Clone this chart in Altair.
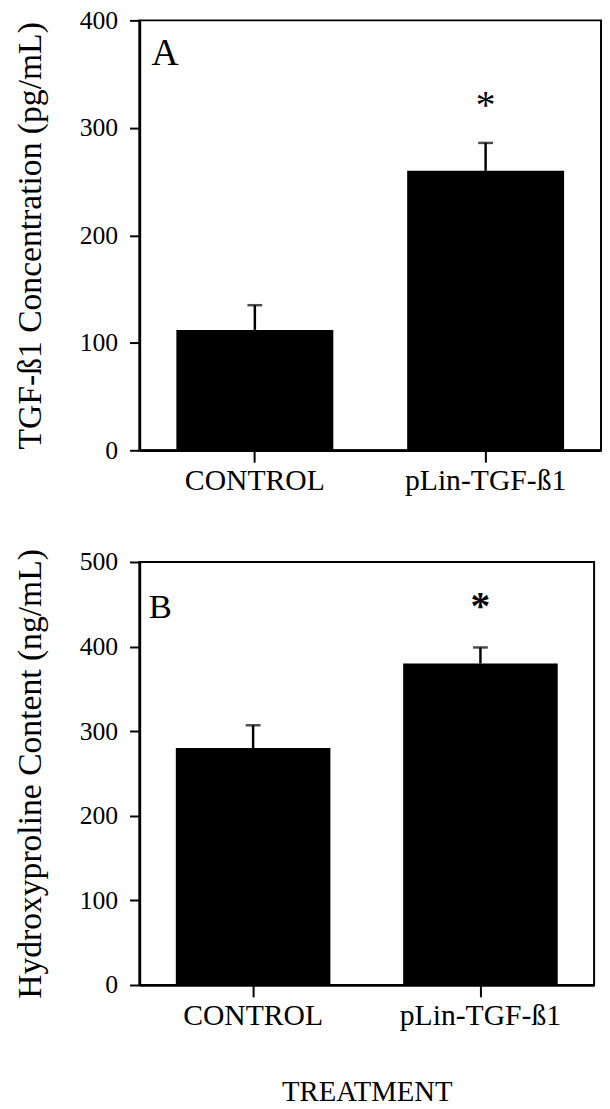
import altair as alt
import pandas as pd

FONT = "Liberation Serif"

treatments = ["CONTROL", "pLin-TGF-ß1"]

# Panel A: TGF-ß1 concentration (pg/mL)
tgf_mean = [112, 260]
tgf_upper = [135, 286]
tgf_star = [327]          # asterisk over pLin-TGF-ß1
# Panel B: Hydroxyproline content (ng/mL)
hyp_mean = [280, 380]
hyp_upper = [307, 399]
hyp_star = [455]

star_group = ["pLin-TGF-ß1"]


def panel(mean, upper, star, letter, letter_y, letter_x, letter_size, ymax, yticks,
          ytitle, width, height, xtitle, star_weight):
    df = pd.DataFrame({"treatment": treatments, "v": mean, "upper": upper})
    sdf = pd.DataFrame({"treatment": star_group, "v": star, "s": ["*"]})
    ldf = pd.DataFrame({"v": [letter_y], "s": [letter]})

    xscale = alt.Scale(paddingInner=0.32, paddingOuter=0.16)
    xaxis = alt.Axis(title=xtitle, labelAngle=0, labelFontSize=30, labelPadding=4,
                     tickSize=12, titleFontSize=29, titlePadding=48,
                     titleFontWeight="normal")
    x = alt.X("treatment:N", sort=treatments, scale=xscale, axis=xaxis)
    yscale = alt.Scale(domain=[0, ymax], nice=False, zero=True)
    yaxis = alt.Axis(title=ytitle, values=yticks, labelFontSize=26, tickSize=10,
                     labelPadding=12, titleFontSize=34, titlePadding=32,
                     titleFontWeight="normal")

    def Y(field):
        return alt.Y(f"{field}:Q", scale=yscale, axis=yaxis, title=ytitle)

    bars = alt.Chart(df).mark_bar(color="black").encode(x=x, y=Y("v"))
    stems = alt.Chart(df).mark_rule(color="black", strokeWidth=2.5).encode(
        x=x, y=Y("v"), y2="upper:Q")
    caps = alt.Chart(df).mark_tick(color="black", size=15, thickness=2.5).encode(
        x=x, y=Y("upper"))
    stars = alt.Chart(sdf).mark_text(font=FONT, fontSize=40, fontWeight=star_weight,
                                     baseline="middle", align="center", dy=7,
                                     color="black").encode(
        x=x, y=Y("v"), text="s:N")
    letters = alt.Chart(ldf).mark_text(font=FONT, fontSize=letter_size,
                                       baseline="middle", align="center",
                                       color="black").encode(
        x=alt.value(letter_x), y=Y("v"), text="s:N")
    return alt.layer(bars, stems, caps, stars, letters).properties(
        width=width, height=height)


top = panel(tgf_mean, tgf_upper, tgf_star, "A", 369, 26, 38, 400,
            [0, 100, 200, 300, 400], "TGF-ß1 Concentration (pg/mL)",
            467, 435, None, "normal")
bottom = panel(hyp_mean, hyp_upper, hyp_star, "B", 447, 21, 35, 500,
               [0, 100, 200, 300, 400, 500], "Hydroxyproline Content (ng/mL)",
               460, 428, "TREATMENT", "bold")

chart = alt.vconcat(top, bottom, spacing=51).properties(
    padding={"left": 5, "top": -8, "right": 0, "bottom": 0},
    background="white",
).configure_axis(
    domainColor="black", domainWidth=2.5, tickColor="black", tickWidth=2,
    labelFont=FONT, titleFont=FONT, labelColor="black", titleColor="black",
    grid=False,
).configure_view(stroke="black", strokeWidth=2)

chart.save("out.html", embed_options={"renderer": "svg", "actions": False})
